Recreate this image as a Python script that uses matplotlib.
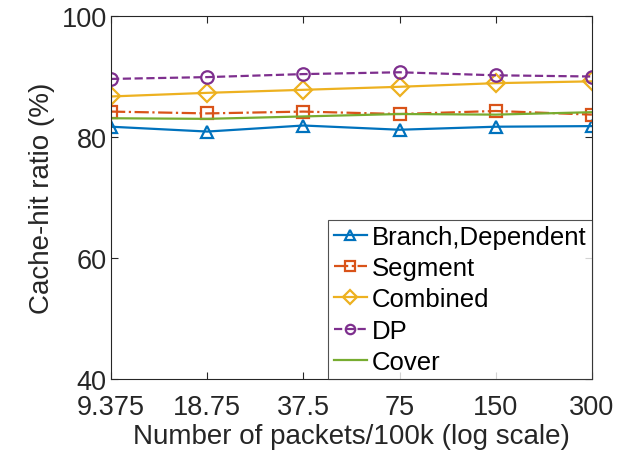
import numpy as np
import matplotlib.pyplot as plt

plt.rcParams['font.family'] = ['Liberation Sans', 'DejaVu Sans']

# packets / 100k (log scale)
packets = [9.375, 18.75, 37.5, 75, 150, 300]
tick_labels = ['9.375', '18.75', '37.5', '75', '150', '300']

branch = [81.7, 80.9, 81.9, 81.2, 81.7, 81.8]
segment = [84.2, 83.9, 84.2, 83.8, 84.3, 83.7]
combined = [86.7, 87.3, 87.8, 88.3, 88.9, 89.2]
dp = [89.6, 89.9, 90.4, 90.7, 90.2, 90.0]
cover = [83.1, 83.0, 83.4, 83.8, 83.7, 84.1]

fig = plt.figure(figsize=(6.29, 4.56), dpi=100)
ax = fig.add_axes([0.1765, 0.1667, 0.7645, 0.796])

mk = dict(markersize=9, markerfacecolor='none', markeredgewidth=1.6, linewidth=1.6)
ax.plot(packets, branch, '-^', color='#0072BD', label='Branch,Dependent', **mk)
ax.plot(packets, segment, '-.s', color='#D95319', label='Segment', **mk)
ax.plot(packets, combined, '-D', color='#EDB120', label='Combined', **mk)
ax.plot(packets, dp, '--o', color='#7E2F8E', label='DP', **mk)
ax.plot(packets, cover, '-', color='#77AC30', label='Cover', linewidth=1.6)

ax.set_xscale('log')
ax.set_xlim(packets[0], packets[-1])
ax.set_ylim(40, 100)
ax.set_xticks(packets)
ax.set_xticklabels(tick_labels)
ax.minorticks_off()
ax.set_yticks([40, 60, 80, 100])
ax.tick_params(direction='in', labelsize=19.5, length=5, top=True, right=True,
               labeltop=False, labelright=False, colors='#262626')
ax.tick_params(axis='x', pad=11)
ax.tick_params(axis='y', pad=3)
for s in ax.spines.values():
    s.set_color('#262626')
    s.set_linewidth(0.8)

ax.set_xlabel('Number of packets/100k (log scale)', fontsize=20, color='#262626', labelpad=2)
ax.set_ylabel('Cache-hit ratio (%)', fontsize=20, color='#262626', labelpad=5)

leg = ax.legend(loc='lower right', fontsize=18.5, frameon=True, fancybox=False,
                edgecolor='#262626', borderaxespad=0, handlelength=1.3,
                handletextpad=0.2, labelspacing=0.28, borderpad=0.2,
                markerscale=0.75)
leg.get_frame().set_linewidth(0.8)

fig.savefig('out.png', dpi=100)
